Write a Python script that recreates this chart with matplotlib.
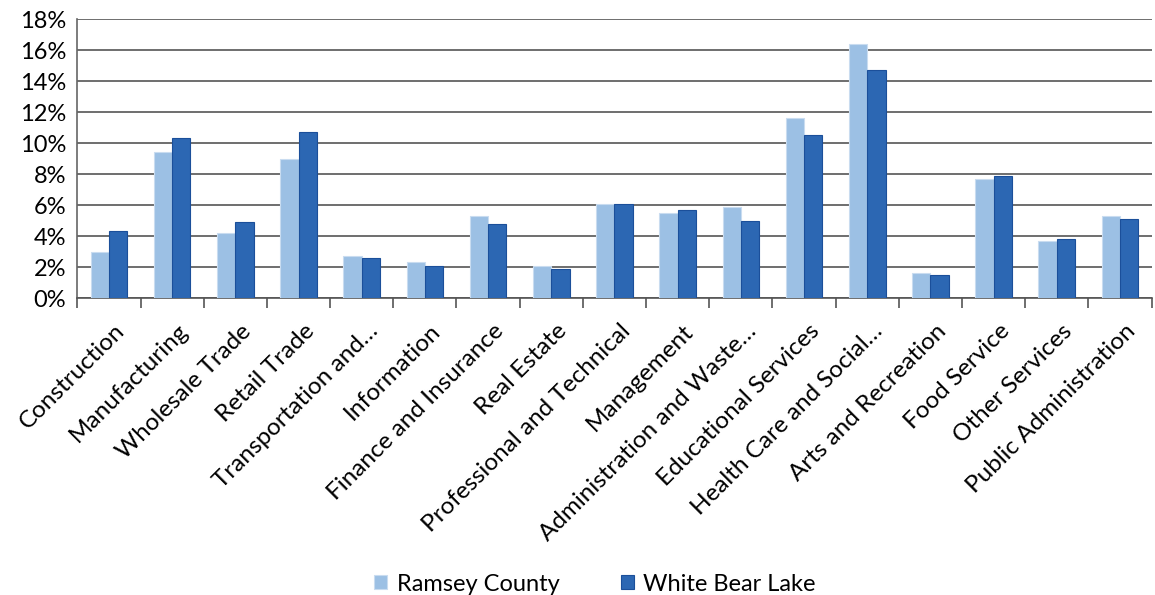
import numpy as np
import matplotlib.pyplot as plt
from matplotlib.ticker import FuncFormatter
from matplotlib.transforms import ScaledTranslation

industries = ["Construction", "Manufacturing", "Wholesale Trade", "Retail Trade",
              "Transportation and…", "Information", "Finance and Insurance",
              "Real Estate", "Professional and Technical", "Management",
              "Administration and Waste…", "Educational Services",
              "Health Care and Social…", "Arts and Recreation", "Food Service",
              "Other Services", "Public Administration"]
ramsey = [3.0, 9.4, 4.2, 9.0, 2.7, 2.3, 5.3, 2.1, 6.1, 5.5, 5.9, 11.6, 16.4, 1.6, 7.7, 3.7, 5.3]
white_bear = [4.3, 10.3, 4.9, 10.7, 2.6, 2.1, 4.8, 1.9, 6.1, 5.7, 5.0, 10.5, 14.7, 1.5, 7.9, 3.8, 5.1]

plt.rcParams['font.family'] = ['Lato', 'DejaVu Sans']

fig = plt.figure(figsize=(11.55, 5.95), dpi=100)
ax = fig.add_axes([0.067, 0.499, 0.93, 0.469])

x = np.arange(len(industries))
w = 0.29
ax.bar(x - w / 2, ramsey, w, color="#9cc0e4", edgecolor="#c9dcf0", linewidth=0.8,
       label="Ramsey County", zorder=3)
ax.bar(x + w / 2, white_bear, w, color="#2c67b3", edgecolor="#1b4f9a", linewidth=0.8,
       label="White Bear Lake", zorder=3)

ax.set_ylim(0, 18)
ax.set_yticks(np.arange(0, 19, 2))
ax.yaxis.set_major_formatter(FuncFormatter(lambda v, p: f"{v:.0f}%"))
ax.set_xlim(-0.5, len(industries) - 0.5)
ax.grid(axis="y", color="#555555", linewidth=1.2, zorder=0)

# category labels between boundary ticks
ax.set_xticks(x)
ax.set_xticklabels(industries, rotation=45, ha="right", rotation_mode="anchor")
ax.set_xticks(np.arange(-0.5, len(industries), 1), minor=True)
ax.tick_params(axis="x", which="major", length=0, pad=16, labelsize=17.5)
ax.tick_params(axis="x", which="minor", length=7, width=1.2, color="#555555")
ax.tick_params(axis="y", length=0, labelsize=17, pad=8)
shift = ScaledTranslation(0.05, 0, fig.dpi_scale_trans)
for lbl in ax.get_xticklabels():
    lbl.set_transform(lbl.get_transform() + shift)

for s in ["top", "right"]:
    ax.spines[s].set_visible(False)
ax.spines["left"].set_color("#666666")
ax.spines["left"].set_linewidth(1.2)
ax.spines["bottom"].set_color("#555555")
ax.spines["bottom"].set_linewidth(1.2)

fig.legend(loc="lower center", bbox_to_anchor=(0.515, -0.035), ncol=2, frameon=False,
           fontsize=17, handlelength=0.55, handleheight=0.55, columnspacing=2.6,
           handletextpad=0.4)

fig.savefig("out.png", dpi=100)
